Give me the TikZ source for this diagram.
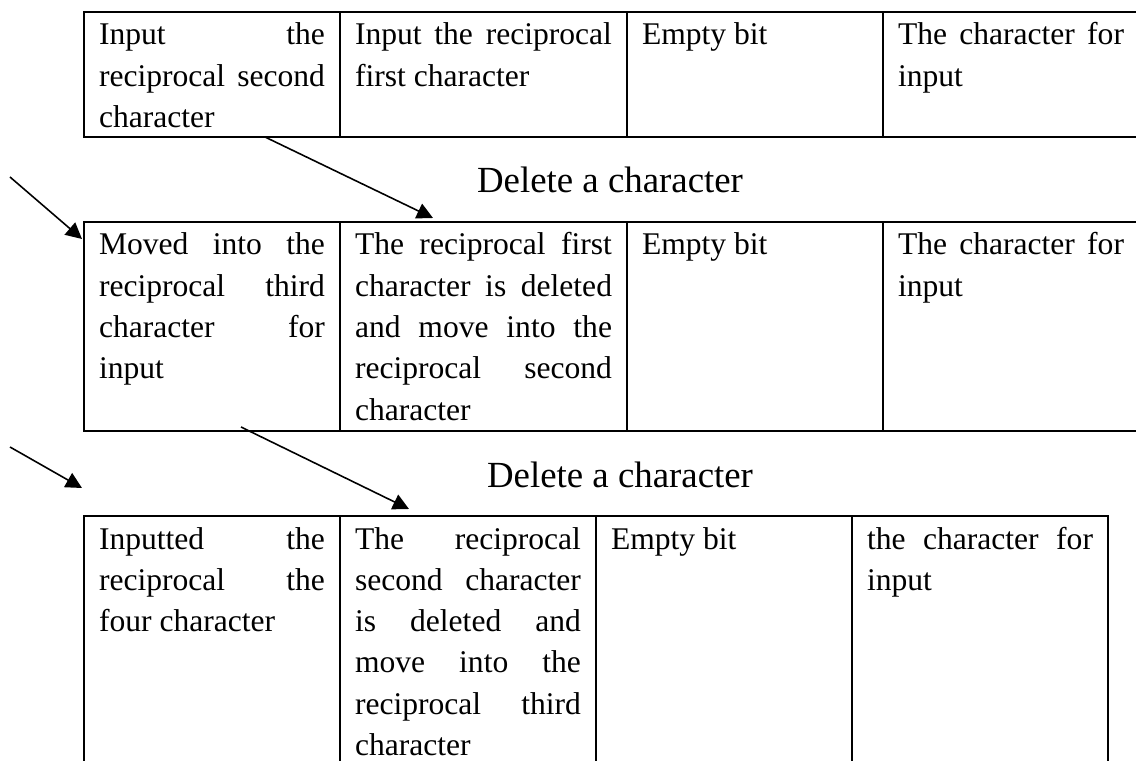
\documentclass[tikz,border=0pt]{standalone}
\usepackage{fontspec}
\setmainfont{Liberation Serif}
\usetikzlibrary{positioning,arrows.meta}
\tolerance=10000
\hyphenpenalty=10000

\begin{document}
\begin{tikzpicture}[x=0.38pt,y=-0.38pt]
\tikzset{cell/.style={draw, line width=0.75pt, inner xsep=5.7pt, inner ysep=0pt, outer sep=0pt,
    align=justify, text width=85.88pt, text height=12.54pt, font=\fontsize{12}{15.7}\selectfont},
  widecell/.style={cell, text width=97.66pt},
  rowone/.style={text depth=34.96pt},
  rowtwo/.style={text depth=66.88pt},
  rowthree/.style={text depth=90.06pt},
  caption/.style={anchor=base, inner sep=0pt, font=\fontsize{14}{16}\selectfont},
  link/.style={line width=0.6pt, -{Triangle[length=6.1pt,width=6.1pt]}}}
\useasboundingbox (0,0) rectangle (1136,761);
\clip (0,0) rectangle (1136,761);
% first state
\node [cell, rowone, anchor=north west] (ta1) at (84,12) {Input the\linebreak reciprocal second\linebreak character};
\node [widecell, rowone, right=0pt of ta1] (ta2) {Input the reciprocal\linebreak first character};
\node [cell, rowone, right=0pt of ta2] (ta3) {Empty bit};
\node [cell, rowone, right=0pt of ta3] (ta4) {The character for\linebreak input};
\node [caption] (del1) at (610,193) {Delete a character};
% second state
\node [cell, rowtwo, anchor=north west] (tb1) at (84,222) {Moved into the\linebreak reciprocal third\linebreak character for\linebreak input};
\node [widecell, rowtwo, right=0pt of tb1] (tb2) {The reciprocal first\linebreak character is deleted\linebreak and move into the\linebreak reciprocal second\linebreak character};
\node [cell, rowtwo, right=0pt of tb2] (tb3) {Empty bit};
\node [cell, rowtwo, right=0pt of tb3] (tb4) {The character for\linebreak input};
\node [caption] (del2) at (620,487) {Delete a character};
% third state
\node [cell, rowthree, anchor=north west] (tc1) at (84,516) {Inputted the\linebreak reciprocal the\linebreak four character};
\node [cell, rowthree, right=0pt of tc1] (tc2) {The reciprocal\linebreak second character\linebreak is deleted and\linebreak move into the\linebreak reciprocal third\linebreak character};
\node [cell, rowthree, right=0pt of tc2] (tc3) {Empty bit};
\node [cell, rowthree, right=0pt of tc3] (tc4) {the character for\linebreak input};
% arrows
\coordinate (p1) at (265,137);
\coordinate (q1) at (433,218);
\coordinate (p2) at (10,177);
\coordinate (q2) at (82,239);
\coordinate (p3) at (10,447);
\coordinate (q3) at (82,488);
\coordinate (p4) at (241,427);
\coordinate (q4) at (409,509);
\draw [link] (p1) -- (q1);
\draw [link] (p2) -- (q2);
\draw [link] (p3) -- (q3);
\draw [link] (p4) -- (q4);
\end{tikzpicture}
\end{document}
